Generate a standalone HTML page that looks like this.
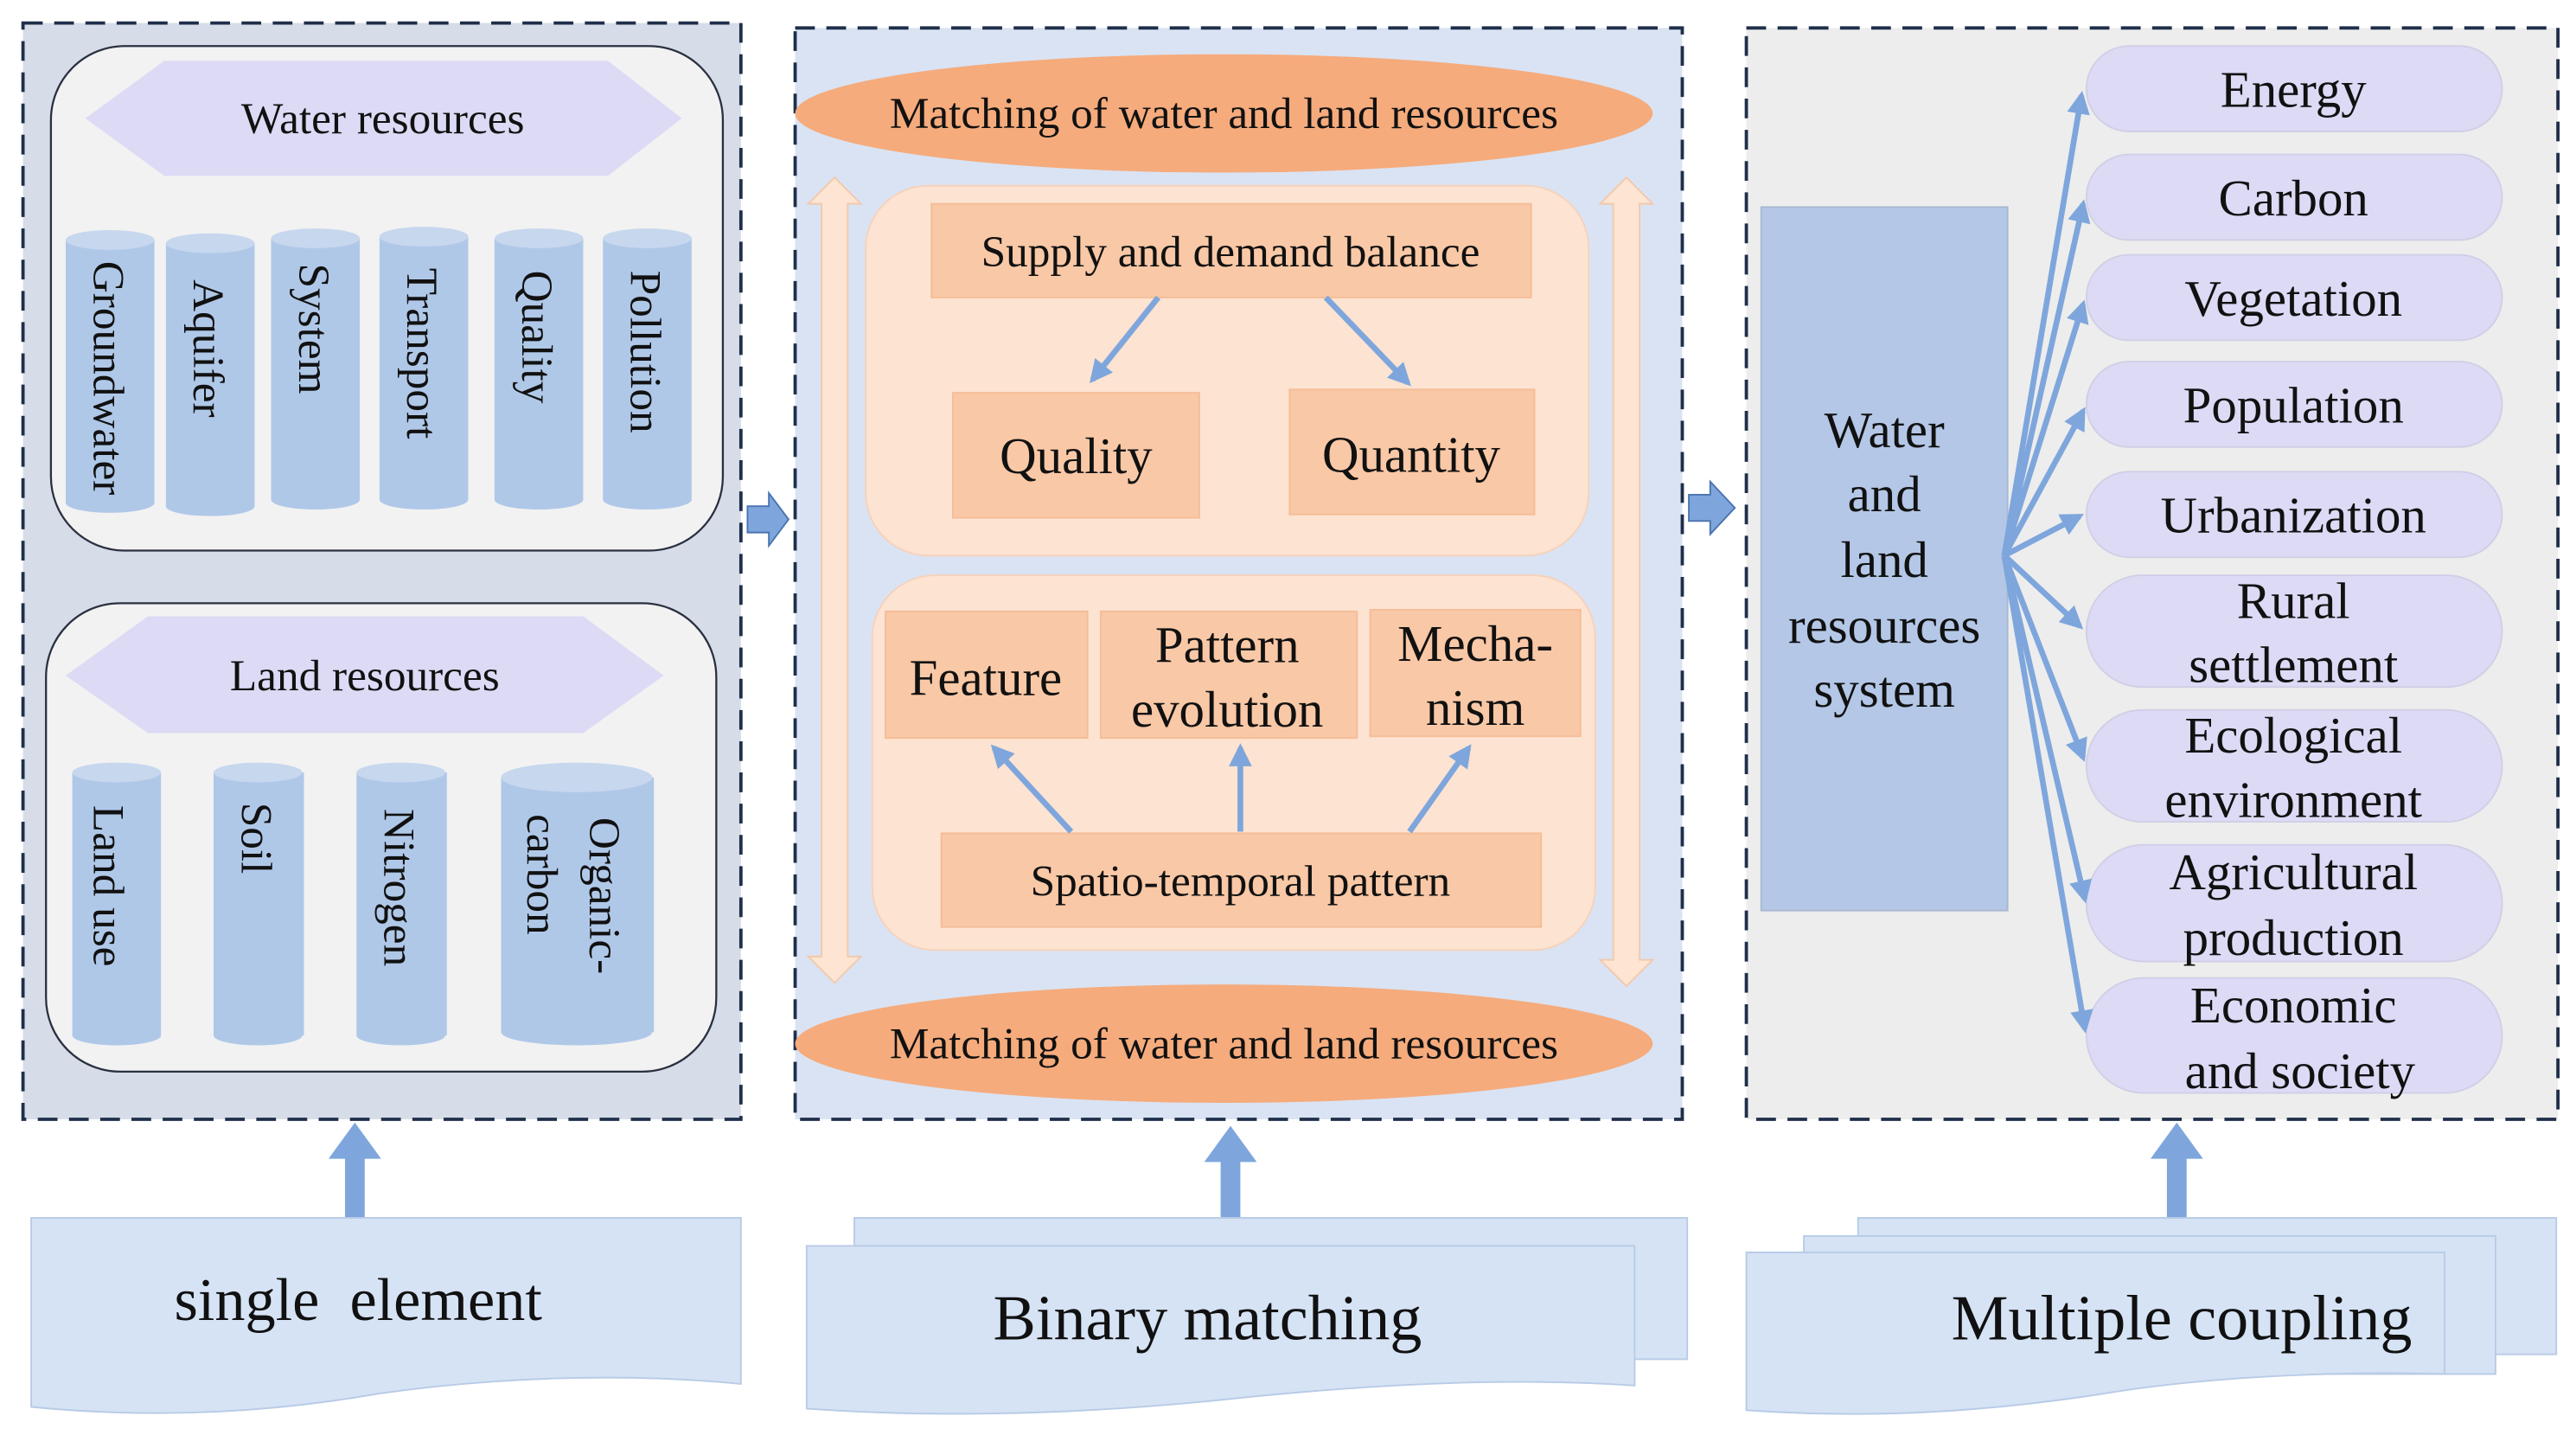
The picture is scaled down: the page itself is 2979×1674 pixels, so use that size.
<!DOCTYPE html>
<html><head><meta charset="utf-8"><style>html,body{margin:0;padding:0;background:#fff}svg{display:block}svg,svg text{font-family:"Liberation Serif","Times New Roman",Times,"Noto Serif CJK SC","DejaVu Serif",serif !important}</style></head>
<body>
<svg width="2979" height="1674" viewBox="0 0 1568 881" preserveAspectRatio="none" xmlns="http://www.w3.org/2000/svg" font-family="Liberation Serif, Times New Roman, Noto Serif CJK SC, serif">
<defs>
<marker id="ah" viewBox="0 0 10 10" refX="8" refY="5" markerWidth="4" markerHeight="4" orient="auto"><path d="M0,0 L10,5 L0,10 z" fill="#7ea6dc"/></marker>
</defs>
<rect x="0" y="0" width="1568" height="881" fill="#fff"/>
<!-- Panel 1 -->
<rect x="14" y="14" width="437" height="667" fill="#d6dde8" stroke="#1f2f4a" stroke-width="2" stroke-dasharray="12,7"/>
<rect x="31" y="28" width="409" height="307" rx="45" fill="#f2f2f2" stroke="#2a3040" stroke-width="1.2"/>
<polygon points="52,72 100,37 370,37 415,72 370,107 100,107" fill="#dcdaf5"/>
<text x="233" y="81" font-size="27" text-anchor="middle" fill="#111">Water resources</text>
<g fill="#b0c8e8">
<rect x="40" y="146" width="54" height="160"/><ellipse cx="67" cy="146" rx="27" ry="6" fill="#c6d7ee"/><ellipse cx="67" cy="306" rx="27" ry="6"/>
<rect x="101" y="148" width="54" height="160"/><ellipse cx="128" cy="148" rx="27" ry="6" fill="#c6d7ee"/><ellipse cx="128" cy="308" rx="27" ry="6"/>
<rect x="165" y="145" width="54" height="159"/><ellipse cx="192" cy="145" rx="27" ry="6" fill="#c6d7ee"/><ellipse cx="192" cy="304" rx="27" ry="6"/>
<rect x="231" y="144" width="54" height="160"/><ellipse cx="258" cy="144" rx="27" ry="6" fill="#c6d7ee"/><ellipse cx="258" cy="304" rx="27" ry="6"/>
<rect x="301" y="145" width="54" height="159"/><ellipse cx="328" cy="145" rx="27" ry="6" fill="#c6d7ee"/><ellipse cx="328" cy="304" rx="27" ry="6"/>
<rect x="367" y="145" width="54" height="159"/><ellipse cx="394" cy="145" rx="27" ry="6" fill="#c6d7ee"/><ellipse cx="394" cy="304" rx="27" ry="6"/>
</g>
<g font-size="27" fill="#111" text-anchor="middle">
<text transform="translate(57,230) rotate(90)">Groundwater</text>
<text transform="translate(118,212) rotate(90)">Aquifer</text>
<text transform="translate(182,200) rotate(90)">System</text>
<text transform="translate(248,215) rotate(90)">Transport</text>
<text transform="translate(318,205) rotate(90)">Quality</text>
<text transform="translate(384,214) rotate(90)">Pollution</text>
</g>
<rect x="28" y="367" width="408" height="285" rx="45" fill="#f2f2f2" stroke="#2a3040" stroke-width="1.2"/>
<polygon points="40,411 90,375 355,375 404,411 355,446 90,446" fill="#dcdaf5"/>
<text x="222" y="420" font-size="27" text-anchor="middle" fill="#111">Land resources</text>
<g fill="#b0c8e8">
<rect x="44" y="470" width="54" height="160"/><ellipse cx="71" cy="470" rx="27" ry="6" fill="#c6d7ee"/><ellipse cx="71" cy="630" rx="27" ry="6"/>
<rect x="130" y="470" width="55" height="160"/><ellipse cx="157" cy="470" rx="27" ry="6" fill="#c6d7ee"/><ellipse cx="157" cy="630" rx="27" ry="6"/>
<rect x="217" y="470" width="55" height="160"/><ellipse cx="244" cy="470" rx="27" ry="6" fill="#c6d7ee"/><ellipse cx="244" cy="630" rx="27" ry="6"/>
<rect x="305" y="473" width="93" height="155"/><ellipse cx="351" cy="473" rx="46" ry="9" fill="#c6d7ee"/><ellipse cx="351" cy="628" rx="46" ry="8"/>
</g>
<g font-size="27" fill="#111" text-anchor="middle">
<text transform="translate(57,539) rotate(90)">Land use</text>
<text transform="translate(147,510) rotate(90)">Soil</text>
<text transform="translate(234,540) rotate(90)">Nitrogen</text>
<text transform="translate(359,545) rotate(90)">Organic-</text>
<text transform="translate(321,532) rotate(90)">carbon</text>
</g>
<polygon points="210,741 222,741 222,705 232,705 216,683 200,705 210,705" fill="#7ea6dc"/>
<path d="M19,741 H451 V842 C380,835 300,838 230,848 C150,862 80,862 19,856 Z" fill="#d6e3f5" stroke="#b8cbe6"/>
<text x="218" y="803" font-size="37" text-anchor="middle" fill="#111" xml:space="preserve">single  element</text>
<polygon points="455,308 468,308 468,300 480,316 468,332 468,324 455,324" fill="#7ea6dc" stroke="#4a74b0" stroke-width="1"/>

<!-- Panel 2 -->
<rect x="484" y="17" width="540" height="664" fill="#dae3f3" stroke="#1f2f4a" stroke-width="2" stroke-dasharray="12,7"/>
<g fill="#fde4d3" stroke="#f2c9ac" stroke-width="1">
<polygon points="508,108 524,124 516,124 516,582 524,582 508,598 492,582 500,582 500,124 492,124"/>
<polygon points="990,108 1006,124 998,124 998,584 1006,584 990,600 974,584 982,584 982,124 974,124"/>
</g>
<ellipse cx="745" cy="69" rx="261" ry="36" fill="#f5ab7c"/>
<text x="745" y="78" font-size="27" text-anchor="middle" fill="#111">Matching of water and land resources</text>
<rect x="527" y="113" width="440" height="225" rx="38" fill="#fde3d1" stroke="#f6d2bb"/>
<rect x="567" y="124" width="365" height="57" fill="#f9c8a6" stroke="#f4bd98"/>
<text x="749" y="162" font-size="27" text-anchor="middle" fill="#111">Supply and demand balance</text>
<rect x="580" y="239" width="150" height="76" fill="#f9c8a6" stroke="#f4bd98"/>
<text x="655" y="288" font-size="31" text-anchor="middle" fill="#111">Quality</text>
<rect x="785" y="237" width="149" height="76" fill="#f9c8a6" stroke="#f4bd98"/>
<text x="859" y="287" font-size="31" text-anchor="middle" fill="#111">Quantity</text>
<g stroke="#7ea6dc" stroke-width="3.5" marker-end="url(#ah)">
<line x1="705" y1="181" x2="665" y2="231"/>
<line x1="807" y1="181" x2="857" y2="233"/>
</g>
<rect x="531" y="350" width="440" height="228" rx="38" fill="#fde3d1" stroke="#f6d2bb"/>
<rect x="539" y="372" width="123" height="77" fill="#f9c8a6" stroke="#f4bd98"/>
<text x="600" y="423" font-size="31" text-anchor="middle" fill="#111">Feature</text>
<rect x="670" y="372" width="156" height="77" fill="#f9c8a6" stroke="#f4bd98"/>
<text x="747" y="403" font-size="31" text-anchor="middle" fill="#111">Pattern</text>
<text x="747" y="442" font-size="31" text-anchor="middle" fill="#111">evolution</text>
<rect x="834" y="371" width="128" height="77" fill="#f9c8a6" stroke="#f4bd98"/>
<text x="898" y="402" font-size="31" text-anchor="middle" fill="#111">Mecha-</text>
<text x="898" y="441" font-size="31" text-anchor="middle" fill="#111">nism</text>
<rect x="573" y="507" width="365" height="57" fill="#f9c8a6" stroke="#f4bd98"/>
<text x="755" y="545" font-size="27" text-anchor="middle" fill="#111">Spatio-temporal pattern</text>
<g stroke="#7ea6dc" stroke-width="3.5" marker-end="url(#ah)">
<line x1="652" y1="506" x2="605" y2="455"/>
<line x1="755" y1="506" x2="755" y2="455"/>
<line x1="858" y1="506" x2="894" y2="455"/>
</g>
<ellipse cx="745" cy="635" rx="261" ry="36" fill="#f5ab7c"/>
<text x="745" y="644" font-size="27" text-anchor="middle" fill="#111">Matching of water and land resources</text>
<polygon points="743,741 755,741 755,707 765,707 749,685 733,707 743,707" fill="#7ea6dc"/>
<rect x="520" y="741" width="507" height="86" fill="#d6e3f5" stroke="#b8cbe6"/>
<path d="M491,758 H995 V843 C920,838 840,842 760,850 C650,862 560,862 491,857 Z" fill="#d6e3f5" stroke="#b8cbe6"/>
<text x="735" y="815" font-size="39" text-anchor="middle" fill="#111">Binary matching</text>
<polygon points="1028,301 1041,301 1041,293 1056,309 1041,325 1041,317 1028,317" fill="#7ea6dc" stroke="#4a74b0" stroke-width="1"/>

<!-- Panel 3 -->
<rect x="1063" y="17" width="494" height="664" fill="#ededed" stroke="#1f2f4a" stroke-width="2" stroke-dasharray="12,7"/>
<rect x="1072" y="126" width="150" height="428" fill="#b4c7e7" stroke="#a8b8d0"/>
<g font-size="31" text-anchor="middle" fill="#111">
<text x="1147" y="272">Water</text>
<text x="1147" y="311">and</text>
<text x="1147" y="351">land</text>
<text x="1147" y="391">resources</text>
<text x="1147" y="430">system</text>
</g>
<g fill="#dcdaf5" stroke="#d0cfe6">
<rect x="1270" y="28" width="253" height="52" rx="26"/>
<rect x="1270" y="94" width="253" height="52" rx="26"/>
<rect x="1270" y="155" width="253" height="52" rx="26"/>
<rect x="1270" y="220" width="253" height="52" rx="26"/>
<rect x="1270" y="287" width="253" height="52" rx="26"/>
<rect x="1270" y="350" width="253" height="68" rx="34"/>
<rect x="1270" y="432" width="253" height="68" rx="34"/>
<rect x="1270" y="514" width="253" height="71" rx="35"/>
<rect x="1270" y="595" width="253" height="70" rx="35"/>
</g>
<g font-size="31" text-anchor="middle" fill="#111">
<text x="1396" y="65">Energy</text>
<text x="1396" y="131">Carbon</text>
<text x="1396" y="192">Vegetation</text>
<text x="1396" y="257">Population</text>
<text x="1396" y="324">Urbanization</text>
<text x="1396" y="376">Rural</text>
<text x="1396" y="415">settlement</text>
<text x="1396" y="458">Ecological</text>
<text x="1396" y="497">environment</text>
<text x="1396" y="541">Agricultural</text>
<text x="1396" y="581">production</text>
<text x="1396" y="622">Economic</text>
<text x="1400" y="662">and society</text>
</g>
<g stroke="#7ea6dc" stroke-width="3.5" marker-end="url(#ah)">
<line x1="1220" y1="338" x2="1267" y2="58"/>
<line x1="1220" y1="338" x2="1268" y2="124"/>
<line x1="1220" y1="338" x2="1268" y2="185"/>
<line x1="1220" y1="338" x2="1268" y2="250"/>
<line x1="1220" y1="338" x2="1266" y2="314"/>
<line x1="1220" y1="338" x2="1266" y2="381"/>
<line x1="1220" y1="338" x2="1268" y2="461"/>
<line x1="1220" y1="338" x2="1269" y2="547"/>
<line x1="1220" y1="338" x2="1269" y2="626"/>
</g>
<polygon points="1319,741 1331,741 1331,705 1341,705 1325,683 1309,705 1319,705" fill="#7ea6dc"/>
<rect x="1131" y="741" width="425" height="83" fill="#d6e3f5" stroke="#b8cbe6"/>
<rect x="1098" y="752" width="421" height="84" fill="#d6e3f5" stroke="#b8cbe6"/>
<path d="M1063,762 H1488 V836 C1420,834 1340,838 1280,848 C1190,862 1120,862 1063,858 Z" fill="#d6e3f5" stroke="#b8cbe6"/>
<text x="1328" y="815" font-size="39" text-anchor="middle" fill="#111">Multiple coupling</text>
</svg>
</body></html>
